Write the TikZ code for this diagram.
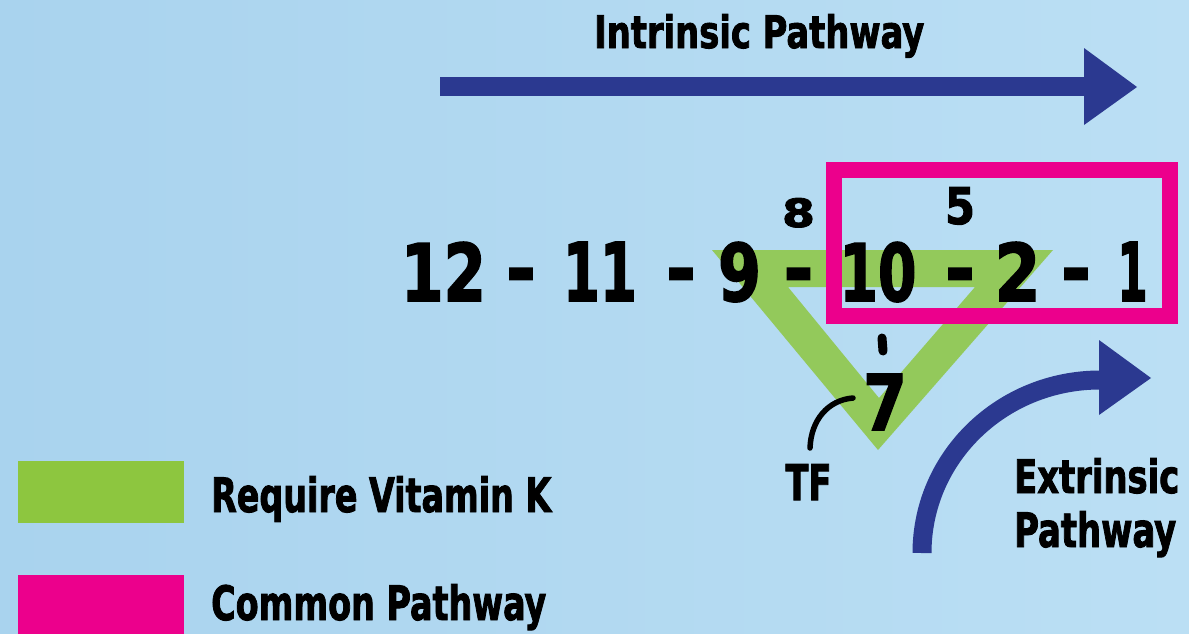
\documentclass[tikz,border=0pt]{standalone}
\usepackage{fontspec}
\usepackage{graphicx}
\newfontfamily\hand[FakeBold=2]{DejaVuSansCondensed-Bold.ttf}
\newcommand\fitt[3]{\resizebox{#1pt}{#2pt}{\hand #3}}
\definecolor{navy}{HTML}{2B3990}
\definecolor{pinkc}{HTML}{EC008C}
\definecolor{greenk}{HTML}{8DC63F}
\definecolor{greent}{HTML}{93C95B}
\definecolor{bgl}{HTML}{A9D3EE}
\definecolor{bgr}{HTML}{BBDFF4}
\begin{document}
\begin{tikzpicture}[x=1pt,y=-1pt,
  lbl/.style={inner sep=0pt, anchor=base west, text=black},
  num/.style={inner sep=0pt, anchor=base, text=black},
  dsh/.style={inner sep=0pt, anchor=north, text=black},
  arrowfill/.style={fill=navy},
  inkline/.style={draw=black, line cap=round}]
\shade[left color=bgl, right color=bgr] (0,0) rectangle (1189,633);
\useasboundingbox (0,0) rectangle (1189,633);

% intrinsic arrow
\coordinate (ia) at (440,86.5);
\coordinate (ib) at (1086,86.5);
\draw[navy, line width=19pt] (ia) -- (ib);
\fill[arrowfill] (1084,48) -- (1137,87) -- (1084,125) -- cycle;
\node[lbl] (intr) at (594,48) {\fitt{330}{34}{Intrinsic Pathway}};

% green triangle
\fill[greent, even odd rule] (712,250) -- (1053,250) -- (878,450) -- cycle
  (788,287) -- (975,287) -- (879,398) -- cycle;

% pink common pathway box
\draw[pinkc, line width=16pt] (833.5,170) rectangle (1170,315.5);

% chain of factors
\node[num] (n12) at (443.5,301) {\fitt{85}{59}{12}};
\node[dsh] (d1) at (521,268) {\resizebox{30pt}{!}{\hand -}};
\node[num] (n11) at (600,301) {\fitt{74}{59}{11}};
\node[dsh] (d2) at (681,268) {\resizebox{30pt}{!}{\hand -}};
\node[num] (n9) at (739.5,301) {\fitt{43}{59}{9}};
\node[dsh] (d3) at (798.5,268) {\resizebox{30pt}{!}{\hand -}};
\node[num] (n10) at (878,301) {\fitt{77}{59}{10}};
\node[dsh] (d4) at (960,268) {\resizebox{30pt}{!}{\hand -}};
\node[num] (n2) at (1017.5,301) {\fitt{46}{59}{2}};
\node[dsh] (d5) at (1076,268) {\resizebox{30pt}{!}{\hand -}};
\node[num] (n1) at (1132.5,301) {\fitt{30}{59}{1}};

\node[num] (n8) at (798.5,227) {\fitt{33}{29}{8}};
\node[num] (n5) at (960,224) {\fitt{30}{37}{5}};
\node[num] (n7) at (885,430) {\fitt{44}{56}{7}};

% vertical link 10 -- 7
\coordinate (v1) at (882,338);
\coordinate (v2) at (883,351);
\draw[inkline, line width=9pt] (v1) -- (v2);

% tissue factor
\node[num] (tf) at (808.5,500) {\fitt{46}{36}{TF}};
\coordinate (tf1) at (810,448);
\coordinate (tf2) at (853,398);
\draw[inkline, line width=5.5pt] (tf1) .. controls (811,420) and (828,400) .. (tf2);

% extrinsic arrow
\coordinate (ea) at (922,553);
\coordinate (eb) at (1100,380);
\draw[navy, line width=19pt] (ea) .. controls (922,457) and (1002,380) .. (eb);
\fill[arrowfill] (1099,340) -- (1151,378) -- (1099,415) -- cycle;
\node[lbl] (ext1) at (1014,493) {\fitt{165}{35}{Extrinsic}};
\node[lbl] (ext2) at (1014,547) {\fitt{162}{36}{Pathway}};

% legend
\fill[greenk] (18,461) rectangle (184,523);
\fill[pinkc] (18,575) rectangle (184,640);
\node[lbl] (lg1) at (211,512) {\fitt{340}{36}{Require Vitamin K}};
\node[lbl] (lg2) at (211,620) {\fitt{335}{36}{Common Pathway}};
\end{tikzpicture}
\end{document}
